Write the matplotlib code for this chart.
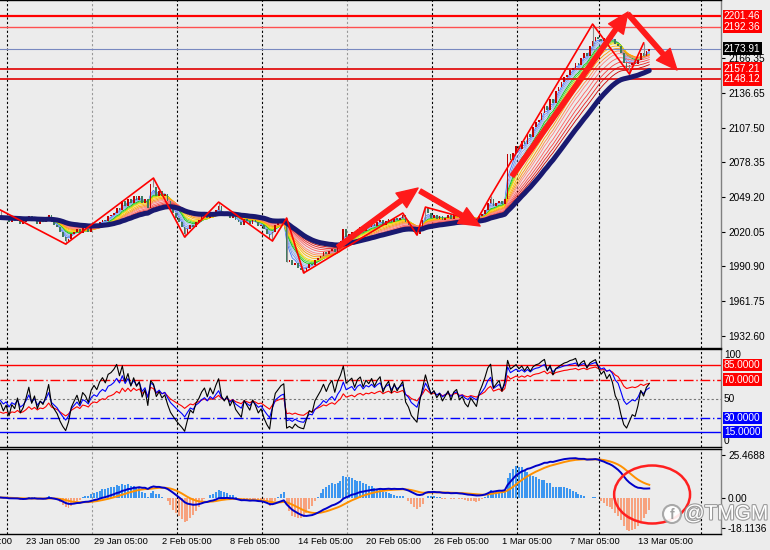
import numpy as np
import pandas as pd
import matplotlib
matplotlib.use('Agg')
import matplotlib.pyplot as plt
import matplotlib.transforms as mtransforms
import matplotlib.patheffects as pe
from matplotlib.patches import Ellipse

plt.rcParams['font.family'] = ['Liberation Sans', 'DejaVu Sans']

# XAUUSD H4 closes
closes = [
    2032, 2030, 2031, 2028, 2030, 2029, 2031, 2027, 2028, 2030,
    2033, 2029, 2031, 2027, 2029, 2028, 2030, 2034, 2028, 2026,
    2024, 2020, 2016, 2012, 2014, 2018, 2020, 2022, 2019, 2023,
    2022, 2020, 2024, 2026, 2025, 2028, 2030, 2029, 2033, 2034,
    2036, 2040, 2038, 2046, 2042, 2048, 2044, 2050, 2047, 2050,
    2044, 2048, 2040, 2060, 2058, 2050, 2054, 2050, 2052, 2046,
    2040, 2036, 2032, 2028, 2024, 2018, 2022, 2026, 2024, 2028,
    2030, 2033, 2035, 2032, 2036, 2034, 2038, 2042, 2036, 2034,
    2036, 2032, 2034, 2030, 2028, 2026, 2031, 2029, 2027, 2030,
    2028, 2025, 2026, 2022, 2018, 2014, 2020, 2026, 2028, 2030,
    2031, 1995, 1996, 1992, 1994, 1990, 1988, 1987, 1990, 1993,
    1992, 1996, 1998, 2000, 2003, 2001, 2004, 2006, 2003, 2008,
    2012, 2022, 2016, 2018, 2020, 2017, 2022, 2024, 2021, 2025,
    2024, 2027, 2025, 2028, 2030, 2026, 2029, 2031, 2028, 2032,
    2030, 2032, 2034, 2028, 2026, 2022, 2020, 2018, 2024, 2030,
    2040, 2036, 2032, 2034, 2031, 2033, 2030, 2032, 2034, 2031,
    2034, 2035, 2032, 2033, 2031, 2030, 2032, 2031, 2030, 2033,
    2035, 2038, 2044, 2048, 2042, 2044, 2046, 2043, 2048, 2085,
    2080, 2086, 2092, 2090, 2096, 2094, 2102, 2100, 2108, 2112,
    2114, 2120, 2126, 2122, 2132, 2128, 2138, 2142, 2146, 2150,
    2152, 2156, 2158, 2162, 2160, 2166, 2170, 2168, 2176, 2180,
    2184, 2182, 2180, 2183, 2181, 2184, 2182, 2178, 2176, 2170,
    2162, 2158, 2160, 2162, 2161, 2164, 2170, 2168, 2172, 2173.91,
]

# zigzag swing points (bar, price)
zz_bars = [0, 23, 54, 65, 77, 96, 101, 107, 142, 147, 150, 168, 173, 209, 222, 227]
zz_prices = [2038.3, 2009.7, 2065.2, 2015.6, 2045.0, 2012.3, 2031.6, 1985.4,
             2035.8, 2017.3, 2040.8, 2029.1, 2050.1, 2194.6, 2152.6, 2178.7]

# horizontal price levels on the chart
level_prices = [2201.46, 2192.36, 2157.21, 2148.12]
bid_price = 2173.91
price_ticks = [2166.35, 2136.65, 2107.50, 2078.35, 2049.20, 2020.05, 1990.90, 1961.75, 1932.60]

rsi_levels = [85, 70, 30, 15]
macd_labels = [25.4688, 0.00, -18.1136]

date_bars = [-15, 9, 33, 57, 81, 105, 129, 153, 177, 201, 225]
date_labels = ['17 Jan 05:00', '23 Jan 05:00', '29 Jan 05:00', '2 Feb 05:00', '8 Feb 05:00',
               '14 Feb 05:00', '20 Feb 05:00', '26 Feb 05:00', '1 Mar 05:00', '7 Mar 05:00',
               '13 Mar 05:00']
grid_bars = [2.3, 32.3, 62.3, 92.3, 122.3, 152.3, 182.3, 211.3, 247.3]

ribbon_periods = [3, 4, 5, 6, 7, 8, 9, 10, 12, 14, 16, 18, 21, 24, 27, 30]
ribbon_colors = ['#4070ff', '#6a90f0', '#86a8f0', '#9cbcf4', '#00c000', '#40d040', '#b8dc00',
                 '#ffd800', '#ffb400', '#ff9800', '#ff8a40', '#ff8080', '#ff6060', '#f84040',
                 '#e82020', '#c80000']

# hand drawn arrows (start bar, start price, end bar, end price)
arrows = [
    (119.1, 2007.2, 147.4, 2056.8),
    (148.1, 2054.3, 169.3, 2024.9),
    (180.6, 2066.9, 221.5, 2204.7),
    (221.5, 2203.0, 238.8, 2156.0),
]

bg = '#ececec'
W, H = 770, 550
px_bar = 2.833
fs = 7.3


def rect(x0, y0, x1, y1):
    return [x0 / W, 1 - y1 / H, (x1 - x0) / W, (y1 - y0) / H]


def rsi(vals, n):
    d = np.diff(vals)
    g = np.clip(d, 0, None)
    l = np.clip(-d, 0, None)
    au, ad = g[:n].mean(), l[:n].mean()
    out = [100 - 100 / (1 + au / ad)]
    for gi, li in zip(g, l):
        au = (au * (n - 1) + gi) / n
        ad = (ad * (n - 1) + li) / n
        out.append(100 - 100 / (1 + au / ad))
    return np.array(out)


s = pd.Series(closes, dtype=float)
n = len(s)
x = np.arange(n)
c = s.values
o = np.r_[c[0], c[:-1]]

fig = plt.figure(figsize=(7.7, 5.5), dpi=100, facecolor=bg)
ax1 = fig.add_axes(rect(0, 0, 721, 348))
ax2 = fig.add_axes(rect(0, 349, 721, 447))
ax3 = fig.add_axes(rect(0, 449, 721, 534))

xlim = (-0.5 / px_bar, (721 - 0.5) / px_bar)
for ax in (ax1, ax2, ax3):
    ax.set_facecolor(bg)
    ax.set_xlim(*xlim)
    ax.set_xticks([])
    for sp in ax.spines.values():
        sp.set_color('black')
        sp.set_linewidth(1)
    ax.spines['left'].set_visible(False)
    ax.spines['right'].set_color('#808080')
    for i, gb in enumerate(grid_bars):
        col = '#999999' if i in (1, 4) else 'black'
        ax.axvline(gb, color=col, lw=0.8, ls=(0, (2, 2)), zorder=1)
    ax.yaxis.tick_right()
    ax.tick_params(axis='y', labelsize=fs, length=3, pad=2, colors='black')

# ---- main price panel
ax1.set_ylim(1922.4, 2214.8)
for per, col in zip(ribbon_periods, ribbon_colors):
    ax1.plot(x, s.ewm(span=per, adjust=False).mean(), color=col, lw=0.6, zorder=2)
ax1.plot(x, s.ewm(span=36, adjust=False).mean(), color='#191970', lw=3.6, zorder=4,
         solid_capstyle='round')

up = c >= o
body_lo = np.minimum(o, c)
body_h = np.maximum(np.abs(c - o), 0.4)
ax1.bar(x[up], body_h[up], bottom=body_lo[up], width=0.6, color='#c00000', zorder=3)
ax1.bar(x[~up], body_h[~up], bottom=body_lo[~up], width=0.6, color='#3d7a5e', zorder=3)
for b, p in zip(zz_bars, zz_prices):
    ax1.vlines(b, min(p, body_lo[b]), max(p, body_lo[b] + body_h[b]), color='#8a8a8a', lw=0.8, zorder=3)

ax1.plot(zz_bars, zz_prices, color='red', lw=1.2, zorder=5)

for lv, lw_, col in zip(level_prices, [1.6, 1.0, 1.2, 1.2], ['#ff0000', '#ff5050', '#e00000', '#e00000']):
    ax1.axhline(lv, color=col, lw=lw_, zorder=2)
ax1.axhline(bid_price, color='#7888c0', lw=0.8, zorder=2)

ax1.set_yticks(price_ticks)
ax1.set_yticklabels([f'{v:.2f}' for v in price_ticks])

tr1 = mtransforms.blended_transform_factory(ax1.transAxes, ax1.transData)
for lv in level_prices:
    ax1.text(1.004, lv, f'{lv:.2f}', transform=tr1, ha='left', va='center', fontsize=fs,
             color='white', bbox=dict(boxstyle='square,pad=0.12', fc='#ff0000', ec='none'))
ax1.text(1.004, bid_price, f'{bid_price:.2f}', transform=tr1, ha='left', va='center', fontsize=fs,
         color='white', bbox=dict(boxstyle='square,pad=0.12', fc='black', ec='none'))

for x0, y0, x1, y1 in arrows:
    ax1.annotate('', xy=(x1, y1), xytext=(x0, y0),
                 arrowprops=dict(arrowstyle='simple,head_length=15,head_width=13,tail_width=3.2',
                                 mutation_scale=1, color='#ff1a1a', shrinkA=0, shrinkB=0),
                 zorder=6, annotation_clip=False)

# ---- RSI panel
ax2.set_ylim(-0.4, 102)
ax2.plot(x, rsi(c, 24), color='#ff0000', lw=0.8, zorder=3)
ax2.plot(x, rsi(c, 12), color='#0000ff', lw=0.8, zorder=3)
ax2.plot(x, rsi(c, 6), color='black', lw=0.8, zorder=3)
ax2.axhline(85, color='#ff0000', lw=1)
ax2.axhline(70, color='#ff0000', lw=1, ls=(0, (7, 2, 1, 2)))
ax2.axhline(50, color='#777777', lw=0.8, ls=(0, (2, 2)))
ax2.axhline(30, color='#0000ff', lw=1, ls=(0, (7, 2, 1, 2)))
ax2.axhline(15, color='#0000ff', lw=1)
ax2.set_yticks([])
tr2 = mtransforms.blended_transform_factory(ax2.transAxes, ax2.transData)
ax2.text(1.004, 101, '100', transform=tr2, ha='left', va='top', fontsize=fs)
ax2.text(1.004, 50, '50', transform=tr2, ha='left', va='center', fontsize=fs)
ax2.text(1.004, 0.5, '0', transform=tr2, ha='left', va='bottom', fontsize=fs)
for lv in rsi_levels:
    ax2.text(1.004, lv, f'{lv:.4f}', transform=tr2, ha='left', va='center', fontsize=fs,
             color='white', bbox=dict(boxstyle='square,pad=0.12',
                                      fc='#ff0000' if lv > 50 else '#0000ff', ec='none'))

# ---- MACD panel
ema12 = s.ewm(span=12, adjust=False).mean()
ema26 = s.ewm(span=26, adjust=False).mean()
dif = ema12 - ema26
dea = dif.ewm(span=9, adjust=False).mean()
hist = 3.5 * (dif - dea)
ax3.set_ylim(-21.9, 29.1)
ax3.bar(x, hist, width=0.7, color=np.where(hist >= 0, '#3c96f0', '#f7a27e'), zorder=2)
ax3.plot(x, dea, color='#ff9000', lw=1.4, zorder=3)
ax3.plot(x, dif, color='#0000c8', lw=1.4, zorder=4)
ax3.set_yticks(macd_labels)
ax3.set_yticklabels(['25.4688', '0.00', '-18.1136'])
ax3.add_patch(Ellipse((230, 1.8), 26.8, 34.8, fill=False, ec='#ff2020', lw=1.8, zorder=6,
                      clip_on=False))

tr3 = mtransforms.blended_transform_factory(ax3.transData, ax3.transAxes)
for b, lab in zip(date_bars, date_labels):
    ax3.text(b, -0.04, lab, transform=tr3, ha='left', va='top', fontsize=6.7, clip_on=False)

# watermark
fig.patches.append(Ellipse((672 / W, 1 - 514 / H), 18 / W, 18 / H, transform=fig.transFigure,
                           fc='white', ec='#a0a0a0', lw=1.5, alpha=0.9))
fig.text(672 / W, 1 - 515 / H, 'f', ha='center', va='center', fontsize=10, color='#a0a0a0',
         fontweight='bold')
fig.text(726 / W, 1 - 514 / H, '@TMGM', ha='center', va='center', fontsize=15, color='white',
         path_effects=[pe.withStroke(linewidth=1.6, foreground='#9a9a9a')])

fig.savefig('out.png', dpi=100, facecolor=bg)
